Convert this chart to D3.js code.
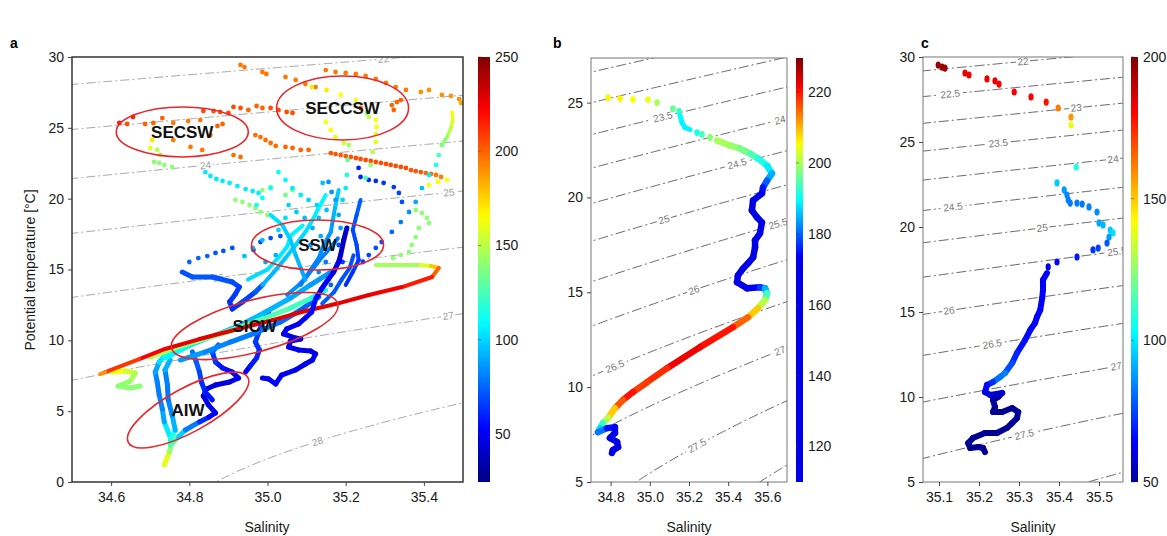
<!DOCTYPE html>
<html><head><meta charset="utf-8">
<script src="https://cdn.jsdelivr.net/npm/d3@7"></script>
<style>
body{margin:0;background:#fff}
svg{font-family:"Liberation Sans",Arial,sans-serif}
</style>
</head><body>
<svg id="chart" width="1167" height="536"></svg>
<script>
// ---------------- DATA (salinity, potential temperature, colour value) ----------------
// Panel a
const aTicksX = [34.6, 34.8, 35.0, 35.2, 35.4];
const aTicksY = [0, 5, 10, 15, 20, 25, 30];
const aBarTicks = [50, 100, 150, 200, 250];
const aLevels = [22, 23, 24, 25, 26, 27, 28];
const aLabelLevels = [22, 24, 25, 26, 27, 28];
const aLabelS = [35.297, 34.841, 35.464, 34.874, 35.462, 35.128];
const aRegionNames = ["SECSW", "SECCSW", "SSW", "SICW", "AIW"];
const aRegionS = [34.782, 35.192, 35.128, 34.967, 34.797];
const aRegionT = [24.71, 26.4, 16.73, 11.01, 5.08];

const aTrackRed = [[35.277,15.32,140],[35.392,15.32,150],[35.418,15.25,165],[35.438,15.11,190],[35.421,14.47,210],[35.344,13.76,222],[35.259,13.2,226],[35.174,12.56,228],[35.087,12.0,228],[35.013,11.43,228],[34.826,10.09,228],[34.738,9.39,226],[34.672,8.68,220],[34.585,7.76,200],[34.572,7.62,180]];
const aTrackDeep = [[35.203,17.93,40],[35.195,17.08,40],[35.187,16.02,42],[35.182,15.53,45],[35.169,14.82,48],[35.156,14.33,50],[35.138,13.62,52],[35.123,12.92,55],[35.113,12.0,55],[35.097,11.58,55],[35.079,11.15,52],[35.049,10.8,50],[35.041,10.45,50],[35.072,10.16,48],[35.085,10.09,48],[35.059,9.95,48],[35.054,9.53,48],[35.079,9.32,48],[35.110,9.25,48],[35.123,9.04,48],[35.115,8.61,48],[35.097,8.33,48],[35.072,7.91,50],[35.036,7.55,50],[35.021,6.92,50],[35.003,7.27,50],[34.987,7.34,50]];
const aTrackAIW1 = [[34.736,1.2,170],[34.749,2.12,150],[34.756,2.82,135],[34.749,3.32,115],[34.736,4.24,95],[34.731,5.15,85],[34.723,6.14,80],[34.718,7.06,80],[34.713,7.76,85],[34.723,8.47,95],[34.736,8.89,110],[34.764,9.32,120]];
const aTrackAIW1b = [[34.751,2.96,130],[34.764,3.67,100],[34.756,4.73,85],[34.746,5.79,80],[34.744,6.85,78],[34.738,7.91,85],[34.751,8.61,100]];
const aTrackAIW2 = [[34.751,2.61,140],[34.772,3.18,110],[34.790,3.67,90],[34.826,4.24,70],[34.851,4.59,55],[34.867,4.87,50],[34.849,5.44,48],[34.836,6.07,45],[34.844,6.56,45],[34.867,6.85,45],[34.903,7.06,45],[34.926,7.34,48],[34.910,7.76,50],[34.885,8.05,55],[34.867,8.47,60],[34.859,9.18,70],[34.874,9.67,80]];
const aTrackMid = [[34.808,9.18,80],[34.818,8.47,75],[34.826,7.76,70],[34.831,7.06,65],[34.841,6.35,60],[34.859,5.79,55]];
const aTrackRightBlue = [[34.944,7.76,50],[34.956,8.19,55],[34.972,8.75,60],[34.979,9.32,62],[34.969,9.88,65],[34.977,10.52,65],[34.987,11.29,70],[35.003,12.0,70]];
const aTrackSICW1 = [[34.7,8.82,150],[34.756,9.39,145],[34.828,10.02,140],[34.910,10.73,135],[34.982,11.44,130],[35.059,12.28,125],[35.113,12.99,120],[35.149,13.55,110]];
const aTrackSICW2 = [[34.738,8.75,110],[34.803,9.67,105],[34.867,10.38,100],[34.931,11.08,95],[34.995,12.0,95],[35.059,12.99,90],[35.110,13.91,90],[35.162,14.82,85]];
const aTrackSICW3 = [[34.777,8.61,90],[34.841,9.18,85],[34.905,9.88,80],[34.969,10.52,80],[35.033,11.29,78],[35.085,12.14,75],[35.131,13.06,72]];
const aTrackUpper = [[34.782,14.82,70],[34.808,14.47,72],[34.859,14.47,72],[34.910,14.12,70],[34.928,13.77,68],[34.918,13.27,65],[34.903,12.71,65],[34.910,12.21,62],[34.936,12.71,65],[34.969,13.41,70],[34.987,13.91,75]];
const aTrackCyan1 = [[34.987,13.91,90],[35.021,14.96,95],[35.046,15.81,95],[35.072,16.73,100],[35.097,17.65,100],[35.115,18.49,105],[35.131,19.34,105],[35.149,20.26,110]];
const aTrackLight = [[35.085,13.91,80],[35.110,14.96,80],[35.131,15.81,82],[35.144,16.73,85],[35.162,17.65,85],[35.167,18.49,90],[35.174,19.55,95],[35.182,20.61,100]];
const aTrackCyan2 = [[35.008,18.85,105],[35.038,18.14,100],[35.059,17.08,98],[35.072,16.02,95],[35.085,15.11,92],[35.097,14.26,88]];
const aTrackCyan3 = [[34.95,14.3,100],[35.0,15.0,102],[35.03,15.9,104],[35.05,16.6,105],[35.06,17.4,106],[35.09,18.1,108]];
const aTrackLight2 = [[35.05,13.2,85],[35.08,13.9,84],[35.10,14.5,83],[35.12,15.2,82],[35.14,15.9,80],[35.16,16.5,80],[35.18,17.2,80]];
const aTrackBlue3 = [[35.14,12.6,75],[35.17,13.4,73],[35.19,14.3,72],[35.21,15.1,70],[35.22,16.0,70]];
const aTrackBlue2 = [[35.238,19.91,75],[35.228,18.85,72],[35.218,17.79,70],[35.228,16.73,68],[35.233,15.67,66],[35.218,14.82,64],[35.200,13.91,62]];
const aTrackEdge = [[35.472,26.12,165],[35.474,25.55,160],[35.469,24.99,155],[35.459,24.35,145],[35.446,23.79,135]];
const aTrackSquiggle = [[34.603,7.76,170],[34.636,7.84,160],[34.662,7.69,150],[34.649,7.13,145],[34.618,6.78,140],[34.649,6.64,140],[34.674,6.78,140]];

const aDotsTop = [[34.931,29.44,195],[34.941,29.29,195],[34.987,28.94,195],[34.997,28.8,195],[35.046,28.59,195],[35.072,28.38,195],[35.097,28.09,195],[35.123,27.88,195],[35.149,29.08,195],[35.174,28.94,195],[35.2,28.87,195],[35.226,28.8,195],[35.251,28.66,195],[35.277,28.45,195],[35.303,28.17,195],[35.328,27.88,195],[35.354,27.67,195],[35.392,27.53,190],[35.413,27.67,190],[35.446,27.32,190],[35.469,27.25,190],[35.490,27.03,190],[35.495,26.75,185]];
const aDotsSECSW = [[34.621,25.34,215],[34.641,25.27,205],[34.656,25.77,215],[34.687,25.27,200],[34.708,25.34,200],[34.731,25.69,200],[34.759,25.34,195],[34.797,25.48,195],[34.828,25.55,195],[34.836,26.19,205],[34.862,26.19,205],[34.879,26.12,205],[34.9,26.05,205],[34.913,26.47,205],[34.931,26.4,205],[34.951,26.26,200],[34.872,25.13,200],[34.885,25.27,200],[34.759,24.14,195],[34.803,23.65,195],[34.833,23.44,195],[34.854,24.49,195],[34.972,26.54,200],[34.987,26.4,200],[35.008,26.4,205],[35.028,26.26,205],[35.049,26.12,205],[35.064,26.05,205]];
const aDotsSECCSW = [[35.318,26.61,200],[35.331,26.82,200],[35.341,26.96,200],[35.323,26.26,200],[35.238,26.4,200],[35.113,27.88,170],[35.151,27.67,170],[35.187,27.32,165],[35.226,26.96,160],[35.254,26.05,140],[35.259,25.77,150],[35.277,25.55,165],[35.279,25.06,165],[35.277,24.56,160],[35.149,25.41,165],[35.162,24.85,165],[35.174,24.35,160],[35.195,23.93,155]];
const aDotsOrange = [[34.913,23.08,198],[34.931,22.94,198],[34.969,24.49,198],[34.982,24.35,198],[34.995,24.14,198],[35.008,23.93,198],[35.021,23.72,198],[35.046,23.65,200],[35.064,23.58,200],[35.085,23.44,200],[35.105,23.44,200],[35.162,23.22,203],[35.174,23.15,203],[35.187,23.08,203],[35.200,23.01,203],[35.213,22.94,203],[35.226,22.87,205],[35.238,22.8,205],[35.251,22.73,205],[35.264,22.66,205],[35.277,22.59,205],[35.290,22.52,205],[35.303,22.45,205],[35.315,22.38,205],[35.328,22.31,205],[35.341,22.24,205],[35.354,22.17,205],[35.367,22.02,203],[35.379,21.95,203],[35.392,21.88,203],[35.405,21.81,200],[35.418,21.74,198],[35.431,21.67,196],[35.444,21.53,194]];
const aDotsLeftGreen = [[34.705,24.14,170],[34.7,23.58,160],[34.718,23.44,150],[34.726,23.08,145],[34.710,22.59,140],[34.723,22.52,140],[34.736,22.38,140],[34.756,22.24,140]];
const aDotsCyanCurve = [[34.841,21.88,105],[34.854,21.6,105],[34.869,21.39,105],[34.885,21.25,105],[34.903,21.11,105],[34.923,20.89,105],[34.944,20.68,105],[34.962,20.54,105],[34.977,20.4,105]];
const aDotsGreenMid = [[34.918,19.91,140],[34.936,19.77,140],[34.954,19.55,140],[34.969,19.34,140],[34.982,19.06,140],[35.0,18.85,140],[34.987,20.61,140],[35.008,20.82,140],[35.046,20.26,135],[35.064,20.61,135]];
const aDotsDiag = [[35.446,23.79,130],[35.438,23.08,125],[35.431,22.38,115],[35.413,21.67,105],[35.395,20.75,95],[35.379,19.77,90],[35.362,19.06,85],[35.341,18.35,80],[35.318,17.65,75],[35.292,16.94,70],[35.277,16.52,70],[35.259,16.02,68],[35.244,15.53,65]];
const aDotsRight = [[35.413,20.96,165],[35.436,21.18,165],[35.459,21.32,165],[35.379,19.2,140],[35.395,18.99,140],[35.408,18.64,140],[35.413,18.28,140],[35.387,17.93,140],[35.379,17.29,140],[35.369,16.73,140],[35.362,16.24,140],[35.341,16.02,140],[35.321,15.81,140]];
const aDotsCluster = [[35.028,21.88,110],[35.046,21.32,108],[35.064,20.75,105],[35.085,20.26,105],[35.105,19.91,100],[35.126,19.55,100],[35.141,21.11,95],[35.156,21.18,85],[35.164,20.47,85],[35.174,19.91,88],[35.008,20.75,110],[34.987,20.05,110],[34.972,19.55,112],[35.054,19.55,100],[35.074,19.06,98],[35.095,18.64,95],[35.115,17.93,92],[35.136,17.36,90],[35.131,18.64,95],[35.151,19.2,95],[35.182,18.85,90],[35.187,17.93,88],[35.046,18.64,102],[35.028,17.79,100],[34.987,17.08,95],[34.962,16.52,92],[34.941,15.95,95],[35.110,16.73,85],[35.149,15.53,80],[35.131,14.82,82],[35.162,13.91,75],[34.995,15.53,90],[35.021,16.02,92],[35.182,16.73,70],[35.192,15.53,65]];
const aDotsBlueL = [[35.233,22.17,60],[35.238,21.53,60],[35.259,21.32,62],[35.277,21.25,62],[35.297,21.11,65],[35.323,20.82,65],[35.336,20.4,68],[35.344,19.77,70]];
const aDotsVert = [[35.208,23.79,145],[35.205,22.73,130],[35.203,21.67,115],[35.200,20.75,105],[35.192,19.91,100],[35.277,24.0,160],[35.269,23.3,150],[35.264,22.38,140],[35.251,21.46,125]];
const aDotsBlueLead = [[34.800,15.53,75],[34.823,15.81,75],[34.846,15.95,75],[34.867,16.17,72],[34.887,16.31,72],[34.910,16.52,70],[34.964,16.38,70],[34.982,16.94,70],[35.008,17.22,70],[35.033,17.36,70]];

// Panel b
const bTicksX = [34.8, 35.0, 35.2, 35.4, 35.6];
const bTicksY = [5, 10, 15, 20, 25];
const bBarTicks = [120, 140, 160, 180, 200, 220];
const bLevels = [22, 22.5, 23, 23.5, 24, 24.5, 25, 25.5, 26, 26.5, 27, 27.5, 28, 28.5];
const bLabelLevels = [23.5, 24, 24.5, 25, 25.5, 26, 26.5, 27, 27.5];
const bLabelS = [35.067, 35.664, 35.445, 35.072, 35.654, 35.225, 34.822, 35.664, 35.241];
const bDots = [[34.787,25.26,206],[34.848,25.21,206],[34.914,25.16,205],[34.991,25.16,204],[35.037,25.0,200],[35.118,24.68,196],[35.149,24.53,193],[35.241,23.42,191],[35.266,23.32,194],[35.307,23.16,198]];
const bTrackUpper = [[35.154,24.32,190],[35.164,23.95,189],[35.180,23.68,189],[35.205,23.58,189]];
const bTrack = [[35.343,23.0,200],[35.409,22.74,200],[35.460,22.58,198],[35.511,22.32,196],[35.552,22.05,193],[35.598,21.68,190],[35.623,21.26,187],[35.598,20.89,182],[35.578,20.53,177],[35.572,20.21,173],[35.527,19.84,172],[35.521,19.32,172],[35.547,18.95,172],[35.572,18.68,172],[35.562,18.11,172],[35.537,17.74,172],[35.537,17.37,172],[35.527,16.84,172],[35.501,16.53,172],[35.476,16.26,172],[35.450,15.89,172],[35.445,15.53,172],[35.496,15.21,172],[35.562,15.26,175],[35.588,15.21,180],[35.598,14.95,190],[35.588,14.58,197],[35.552,14.16,205],[35.501,13.68,212],[35.424,13.16,218],[35.256,12.11,222],[35.088,11.0,222],[34.986,10.26,215],[34.914,9.74,220],[34.863,9.32,220],[34.822,8.89,212],[34.787,8.37,205],[34.761,8.11,197],[34.746,7.84,189],[34.736,7.63,186],[34.782,7.84,176],[34.822,7.89,174],[34.822,7.58,173],[34.797,7.32,172],[34.833,7.11,172],[34.838,6.84,172],[34.812,6.68,172],[34.807,6.53,172]];

// Panel c
const cTicksX = [35.1, 35.2, 35.3, 35.4, 35.5];
const cTicksY = [5, 10, 15, 20, 25, 30];
const cBarTicks = [50, 100, 150, 200];
const cLevels = [21.5, 22, 22.5, 23, 23.5, 24, 24.5, 25, 25.5, 26, 26.5, 27, 27.5, 28];
const cLabelLevels = [22, 22.5, 23, 23.5, 24, 24.5, 25, 25.5, 26, 26.5, 27, 27.5];
const cLabelS = [35.31, 35.128, 35.443, 35.248, 35.535, 35.135, 35.358, 35.545, 35.125, 35.233, 35.543, 35.313];
const cDots = [[35.098,29.53,196],[35.108,29.41,196],[35.115,29.35,195],[35.165,29.06,184],[35.175,28.94,184],[35.220,28.71,183],[35.240,28.59,183],[35.250,28.41,182],[35.288,27.94,182],[35.330,27.65,181],[35.368,27.35,178],[35.398,27.0,162],[35.430,26.47,158],[35.430,26.0,138],[35.443,23.53,107],[35.395,22.59,95],[35.413,22.18,88],[35.420,21.88,85],[35.423,21.59,84],[35.428,21.41,83],[35.445,21.41,83],[35.458,21.35,83],[35.475,21.18,84],[35.495,20.88,86],[35.500,20.24,90],[35.510,20.12,92],[35.528,19.82,95],[35.535,19.65,98],[35.525,19.41,88],[35.520,19.06,78],[35.498,18.76,74],[35.485,18.65,72],[35.445,18.24,68],[35.395,17.94,65],[35.373,17.65,62]];
const cTrack = [[35.370,17.29,64],[35.360,16.88,64],[35.360,16.29,64],[35.358,15.82,64],[35.353,15.12,64],[35.345,14.71,64],[35.340,14.35,65],[35.328,13.94,65],[35.315,13.35,66],[35.295,12.59,68],[35.283,12.0,72],[35.265,11.41,80],[35.253,11.18,88],[35.235,10.88,75],[35.220,10.71,68],[35.215,10.29,62],[35.228,10.12,58],[35.258,10.24,60],[35.248,10.0,55],[35.235,9.82,50],[35.240,9.41,48],[35.235,9.12,48],[35.258,9.12,48],[35.283,9.35,48],[35.298,9.12,48],[35.295,8.76,48],[35.283,8.47,48],[35.270,8.18,48],[35.245,7.88,48],[35.215,7.88,48],[35.185,7.59,48],[35.173,7.29,48],[35.178,7.0,48],[35.198,7.06,48],[35.210,7.0,48],[35.215,6.76,48]];

// ---------------- HELPERS ----------------
function jet(t){
  t = Math.max(0, Math.min(1, t));
  const c = v => Math.round(255*Math.max(0, Math.min(1, v)));
  return `rgb(${c(1.5-Math.abs(4*t-3))},${c(1.5-Math.abs(4*t-2))},${c(1.5-Math.abs(4*t-1))})`;
}
const colA = v => jet((v-24.5)/225.5);
const colB = v => jet(Math.max(0.1,(v-166)/63));
const colC = v => jet((v-45)/155);

// UNESCO EOS-80, surface pressure -> sigma-theta
function sigma(S,T){
  const rw = 999.842594 + 6.793952e-2*T - 9.095290e-3*T*T + 1.001685e-4*T**3 - 1.120083e-6*T**4 + 6.536332e-9*T**5;
  const A = 8.24493e-1 - 4.0899e-3*T + 7.6438e-5*T*T - 8.2467e-7*T**3 + 5.3875e-9*T**4;
  const B = -5.72466e-3 + 1.0227e-4*T - 1.6546e-6*T*T;
  return rw + A*S + B*Math.pow(S,1.5) + 4.8314e-4*S*S - 1000;
}
function solveT(level,S){
  let lo=-3, hi=40;
  for(let i=0;i<60;i++){ const m=(lo+hi)/2; if(sigma(S,m)>level) lo=m; else hi=m; }
  return (lo+hi)/2;
}

const svg = d3.select("#chart");

function panel(cfg){
  const {x, y, id} = cfg;
  const off = cfg.offset || 0;
  const g = svg.append("g");
  const clipId = "clip"+id;
  const [x0,x1] = x.range(), [y1,y0] = y.range();
  svg.append("defs").append("clipPath").attr("id",clipId)
     .append("rect").attr("x",x0).attr("y",y0).attr("width",x1-x0).attr("height",y1-y0);
  const inner = g.append("g").attr("clip-path",`url(#${clipId})`);
  const [sA,sB] = x.domain();
  const line = d3.line().x(d=>x(d[0])).y(d=>y(d[1]));
  const cont = inner.append("g");
  cfg.levels.forEach(L=>{
    const pts = d3.range(0,101).map(i=>{const S=sA-0.05+(sB-sA+0.1)*i/100; return [S, solveT(L+off,S)];});
    cont.append("path").attr("d",line(pts)).attr("fill","none")
      .attr("stroke",cfg.contColor).attr("stroke-width",cfg.contWidth)
      .attr("stroke-dasharray",cfg.dash);
  });
  cfg.labelLevels.forEach((L,i)=>{
    const S = cfg.labelS[i], T = solveT(L+off,S);
    const dS = 0.01, T2 = solveT(L+off,S+dS);
    const ang = Math.atan2(y(T2)-y(T), x(S+dS)-x(S))*180/Math.PI;
    const txt = String(L);
    const w = txt.length*cfg.labelSize*0.56+3;
    const lg = cont.append("g").attr("transform",`translate(${x(S)},${y(T)}) rotate(${ang})`);
    lg.append("rect").attr("x",-w/2).attr("y",-cfg.labelSize*0.45).attr("width",w).attr("height",cfg.labelSize*0.9).attr("fill","#fff");
    lg.append("text").attr("text-anchor","middle").attr("dy","0.35em")
      .attr("font-size",cfg.labelSize).attr("fill",cfg.labelColor).text(txt);
  });
  g.append("rect").attr("x",x0).attr("y",y0).attr("width",x1-x0).attr("height",y1-y0)
    .attr("fill","none").attr("stroke",cfg.frameColor).attr("stroke-width",cfg.frameWidth);
  const ax = g.append("g").attr("transform",`translate(0,${y1})`)
    .call(d3.axisBottom(x).tickValues(cfg.ticksX).tickFormat(d3.format(".1f")).tickSize(4).tickPadding(6));
  const ay = g.append("g").attr("transform",`translate(${x0},0)`)
    .call(d3.axisLeft(y).tickValues(cfg.ticksY).tickFormat(d3.format("d")).tickSize(4).tickPadding(4));
  [ax,ay].forEach(a=>{ a.select(".domain").remove(); a.selectAll("text").attr("font-size",14).attr("fill","#1a1a1a")
      .attr("font-family","'Liberation Sans',Arial,sans-serif"); a.selectAll("line").attr("stroke","#444"); });
  g.append("text").attr("x",cfg.titleX).attr("y",532).attr("text-anchor","middle")
    .attr("font-size",14).attr("fill","#1a1a1a").text("Salinity");
  const bar = cfg.bar;
  const gradId = "grad"+id;
  const grad = svg.append("defs").append("linearGradient").attr("id",gradId)
    .attr("x1",0).attr("y1",1).attr("x2",0).attr("y2",0);
  d3.range(0,61).forEach(i=>{
    const v = bar.dom[0]+(bar.dom[1]-bar.dom[0])*i/60;
    grad.append("stop").attr("offset",i/60).attr("stop-color",cfg.col(v));
  });
  const by = d3.scaleLinear(bar.dom,[y1,y0]);
  g.append("rect").attr("x",bar.x).attr("y",y0).attr("width",bar.w).attr("height",y1-y0).attr("fill",`url(#${gradId})`);
  g.selectAll(null).data(bar.ticks).join("text").attr("x",bar.x+bar.w+5).attr("y",d=>by(d))
    .attr("dy","0.35em").attr("font-size",14).attr("fill","#1a1a1a").text(d=>d);
  g.selectAll(null).data(bar.ticks).join("line").attr("x1",bar.x).attr("x2",bar.x+3)
    .attr("y1",d=>by(d)).attr("y2",d=>by(d)).attr("stroke","#333").attr("stroke-width",0.8).attr("opacity",0.6);
  svg.append("text").attr("x",cfg.letterX).attr("y",48).attr("font-size",14).attr("font-weight","bold").text(id);
  return inner.append("g");
}

function drawTrack(g, arr, x, y, col, w){
  const segs = d3.range(arr.length-1).map(i=>[arr[i],arr[i+1]]);
  g.selectAll(null).data(segs).join("line")
    .attr("x1",d=>x(d[0][0])).attr("y1",d=>y(d[0][1]))
    .attr("x2",d=>x(d[1][0])).attr("y2",d=>y(d[1][1]))
    .attr("stroke",d=>col((d[0][2]+d[1][2])/2)).attr("stroke-width",w).attr("stroke-linecap","round");
}
function drawDots(g, arr, x, y, col, rx, ry){
  g.selectAll(null).data(arr).join("ellipse")
    .attr("cx",d=>x(d[0])).attr("cy",d=>y(d[1])).attr("rx",rx).attr("ry",ry).attr("fill",d=>col(d[2]));
}

// ---------------- PANEL A ----------------
const xA = d3.scaleLinear([34.5,35.5],[72,463]);
const yA = d3.scaleLinear([0,30],[482,57]);
const gA = panel({id:"a", x:xA, y:yA, levels:aLevels, labelLevels:aLabelLevels, labelS:aLabelS,
  contColor:"#a8a8a8", contWidth:1, dash:"9,3,2,3", labelSize:10, labelColor:"#9a9a9a",
  frameColor:"#333", frameWidth:1.5, ticksX:aTicksX, ticksY:aTicksY, titleX:267, letterX:10,
  col:colA, bar:{x:478, w:12, dom:[24.5,250], ticks:aBarTicks}});

[aDotsTop, aDotsSECSW, aDotsSECCSW, aDotsOrange, aDotsLeftGreen, aDotsCyanCurve, aDotsGreenMid,
 aDotsDiag, aDotsRight, aDotsBlueL, aDotsVert, aDotsBlueLead].forEach(a=>drawDots(gA,a,xA,yA,colA,2.4,2.4));
drawTrack(gA, aTrackEdge, xA, yA, colA, 3.5);
drawTrack(gA, aTrackSquiggle, xA, yA, colA, 5);
[aTrackAIW1, aTrackAIW1b, aTrackAIW2, aTrackMid, aTrackRightBlue, aTrackSICW3, aTrackSICW2, aTrackSICW1, aTrackUpper]
  .forEach(a=>drawTrack(gA,a,xA,yA,colA,5));
[aTrackCyan3, aTrackLight2, aTrackBlue3, aTrackCyan1, aTrackLight, aTrackCyan2, aTrackBlue2].forEach(a=>drawTrack(gA,a,xA,yA,colA,4));
drawDots(gA, aDotsCluster, xA, yA, colA, 2.4, 2.4);
drawTrack(gA, aTrackRed, xA, yA, colA, 4);
drawTrack(gA, aTrackDeep, xA, yA, colA, 5);

const ellGeom = [[66,25,0],[66,32,0],[66,25,0],[86,26,-15],[68,22,-28.6]];
const regs = aRegionNames.map((n,i)=>({n, S:aRegionS[i], T:aRegionT[i], g:ellGeom[i]}));
const rg = svg.append("g");
rg.selectAll(null).data(regs).join("ellipse")
  .attr("transform",d=>`translate(${xA(d.S)},${yA(d.T)}) rotate(${d.g[2]})`)
  .attr("rx",d=>d.g[0]).attr("ry",d=>d.g[1]).attr("fill","none").attr("stroke","#e8262b").attr("stroke-width",1.6);
rg.selectAll(null).data(regs).join("text")
  .attr("x",d=>xA(d.S)).attr("y",d=>yA(d.T)).attr("dy","0.36em").attr("text-anchor","middle")
  .attr("font-size",17).attr("font-weight","bold").attr("fill","#111").text(d=>d.n);

svg.append("text").attr("transform","translate(35,270) rotate(-90)").attr("text-anchor","middle")
  .attr("font-size",14).attr("fill","#1a1a1a").text("Potential temperature [°C]");

// ---------------- PANEL B ----------------
const xB = d3.scaleLinear([34.7,35.7],[591,787]);
const yB = d3.scaleLinear([5,27.35],[482,58]);
const gB = panel({id:"b", x:xB, y:yB, levels:bLevels, labelLevels:bLabelLevels, labelS:bLabelS, offset:0.12,
  contColor:"#555", contWidth:0.9, dash:"10,3,2,3", labelSize:10, labelColor:"#777",
  frameColor:"#777", frameWidth:1, ticksX:bTicksX, ticksY:bTicksY, titleX:689, letterX:553,
  col:colB, bar:{x:796, w:7, dom:[110,229.6], ticks:bBarTicks}});
drawDots(gB, bDots, xB, yB, colB, 2.8, 3.4);
drawTrack(gB, bTrackUpper, xB, yB, colB, 5);
drawTrack(gB, bTrack, xB, yB, colB, 6.5);

// ---------------- PANEL C ----------------
const xC = d3.scaleLinear([35.06,35.56],[923,1123]);
const yC = d3.scaleLinear([5,30],[482,57]);
const gC = panel({id:"c", x:xC, y:yC, levels:cLevels, labelLevels:cLabelLevels, labelS:cLabelS, offset:0.05,
  contColor:"#555", contWidth:0.9, dash:"10,3,2,3", labelSize:10, labelColor:"#777",
  frameColor:"#777", frameWidth:1, ticksX:cTicksX, ticksY:cTicksY, titleX:1033, letterX:921,
  col:colC, bar:{x:1131, w:7, dom:[50,200], ticks:cBarTicks}});
drawDots(gC, cDots, xC, yC, colC, 2.6, 3.6);
drawTrack(gC, cTrack, xC, yC, colC, 6);
</script>
</body></html>
